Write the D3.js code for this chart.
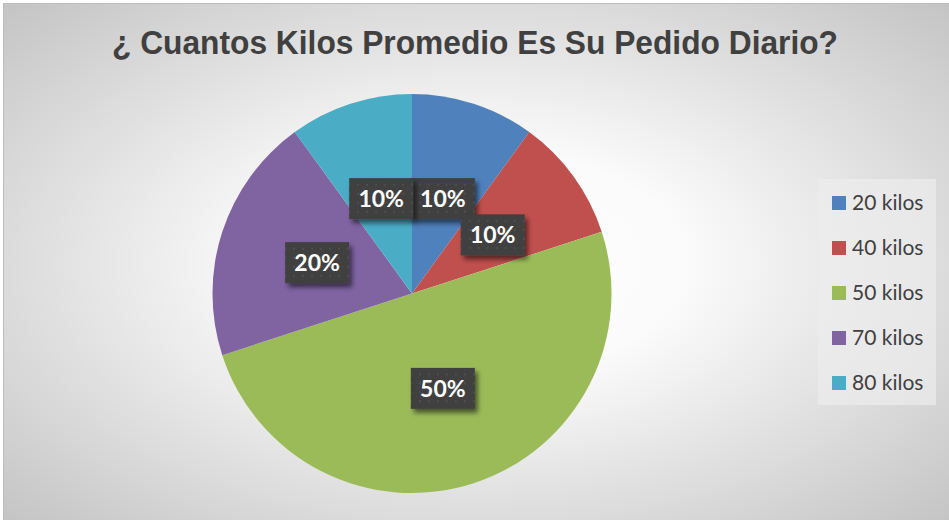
<!DOCTYPE html>
<html>
<head>
<meta charset="utf-8">
<script src="https://d3js.org/d3.v7.min.js"></script>
<style>
  body { margin: 0; background: #ffffff; }
  svg { display: block; }
</style>
</head>
<body>
<div id="chart"></div>
<script>
// data
var categories = ["20 kilos", "40 kilos", "50 kilos", "70 kilos", "80 kilos"];
var shares = [10, 10, 50, 20, 10];
var colours = ["#4F81BD", "#C0504D", "#9BBB59", "#8064A2", "#4BACC6"];
var title = "¿ Cuantos Kilos Promedio Es Su Pedido Diario?";

var width = 949, height = 520;
var cx = 412, cy = 293.5, radius = 199.5;

var svg = d3.select("#chart").append("svg")
  .attr("width", width)
  .attr("height", height);

var defs = svg.append("defs");

// radial background, white in the middle
var grad = defs.append("radialGradient")
  .attr("id", "bg")
  .attr("cx", "50%").attr("cy", "50%").attr("r", "72%");
grad.append("stop").attr("offset", "0%").attr("stop-color", "#ffffff");
grad.append("stop").attr("offset", "30%").attr("stop-color", "#fbfbfb");
grad.append("stop").attr("offset", "100%").attr("stop-color", "#c2c2c2");

// dotted dark fill for the data labels
var pat = defs.append("pattern")
  .attr("id", "dots")
  .attr("patternUnits", "userSpaceOnUse")
  .attr("width", 9).attr("height", 9);
pat.append("rect").attr("width", 9).attr("height", 9).attr("fill", "#3f3f3f");
pat.append("rect").attr("x", 3).attr("y", 3).attr("width", 2).attr("height", 2).attr("fill", "#4f4f4f");

var shadow = defs.append("filter")
  .attr("id", "shadow")
  .attr("x", "-20%").attr("y", "-20%").attr("width", "150%").attr("height", "160%");
shadow.append("feDropShadow")
  .attr("dx", 3).attr("dy", 4)
  .attr("stdDeviation", 2.5)
  .attr("flood-color", "#000")
  .attr("flood-opacity", 0.55);

// chart area
svg.append("rect")
  .attr("x", 3.5).attr("y", 3.5)
  .attr("width", width).attr("height", height)
  .attr("fill", "url(#bg)")
  .attr("stroke", "#bdbdbd")
  .attr("stroke-width", 1);

// title
svg.append("text")
  .attr("x", 475)
  .attr("y", 54)
  .attr("text-anchor", "middle")
  .attr("textLength", 726)
  .attr("lengthAdjust", "spacingAndGlyphs")
  .style("font-family", "'Liberation Sans', Arial, sans-serif")
  .style("font-weight", "bold")
  .style("font-size", "33px")
  .style("fill", "#404040")
  .text(title);

// pie
var pie = d3.pie().sort(null).value(function(d) { return d; });
var arcs = pie(shares);

var arc = d3.arc().innerRadius(0).outerRadius(radius);

var g = svg.append("g")
  .attr("transform", "translate(" + cx + "," + cy + ")");

g.selectAll("path")
  .data(arcs)
  .enter().append("path")
  .attr("d", arc)
  .attr("fill", function(d, i) { return colours[i]; });

// data labels
var labelArc = d3.arc().innerRadius(0).outerRadius(radius);
var total = d3.sum(shares);
var boxW = 64, boxH = 41;

var labels = g.selectAll(".label")
  .data(arcs)
  .enter().append("g")
  .attr("class", "label")
  .attr("transform", function(d) {
    var c = labelArc.centroid(d);
    return "translate(" + c[0] + "," + c[1] + ")";
  });

labels.append("rect")
  .attr("x", -boxW / 2).attr("y", -boxH / 2)
  .attr("width", boxW).attr("height", boxH)
  .attr("fill", "url(#dots)")
  .attr("filter", "url(#shadow)");

labels.append("text")
  .attr("text-anchor", "middle")
  .attr("dy", "0.36em")
  .style("font-family", "Lato, 'Open Sans', sans-serif")
  .style("font-weight", "bold")
  .style("font-size", "23px")
  .style("fill", "#ffffff")
  .text(function(d) { return Math.round(d.value / total * 100) + "%"; });

// legend
var legend = svg.append("g");

legend.append("rect")
  .attr("x", 818).attr("y", 179)
  .attr("width", 118).attr("height", 226)
  .attr("fill", "#ececec")
  .attr("fill-opacity", 0.7);

var legendY = d3.scalePoint()
  .domain(categories)
  .range([203, 383]);

var items = legend.selectAll(".item")
  .data(categories)
  .enter().append("g")
  .attr("class", "item")
  .attr("transform", function(d) { return "translate(832," + legendY(d) + ")"; });

items.append("rect")
  .attr("x", 0).attr("y", -7)
  .attr("width", 14).attr("height", 14)
  .attr("fill", function(d, i) { return colours[i]; });

items.append("text")
  .attr("x", 20)
  .attr("dy", "0.35em")
  .style("font-family", "Lato, 'Open Sans', sans-serif")
  .style("font-size", "21px")
  .style("fill", "#404040")
  .text(function(d) { return d; });
</script>
</body>
</html>
